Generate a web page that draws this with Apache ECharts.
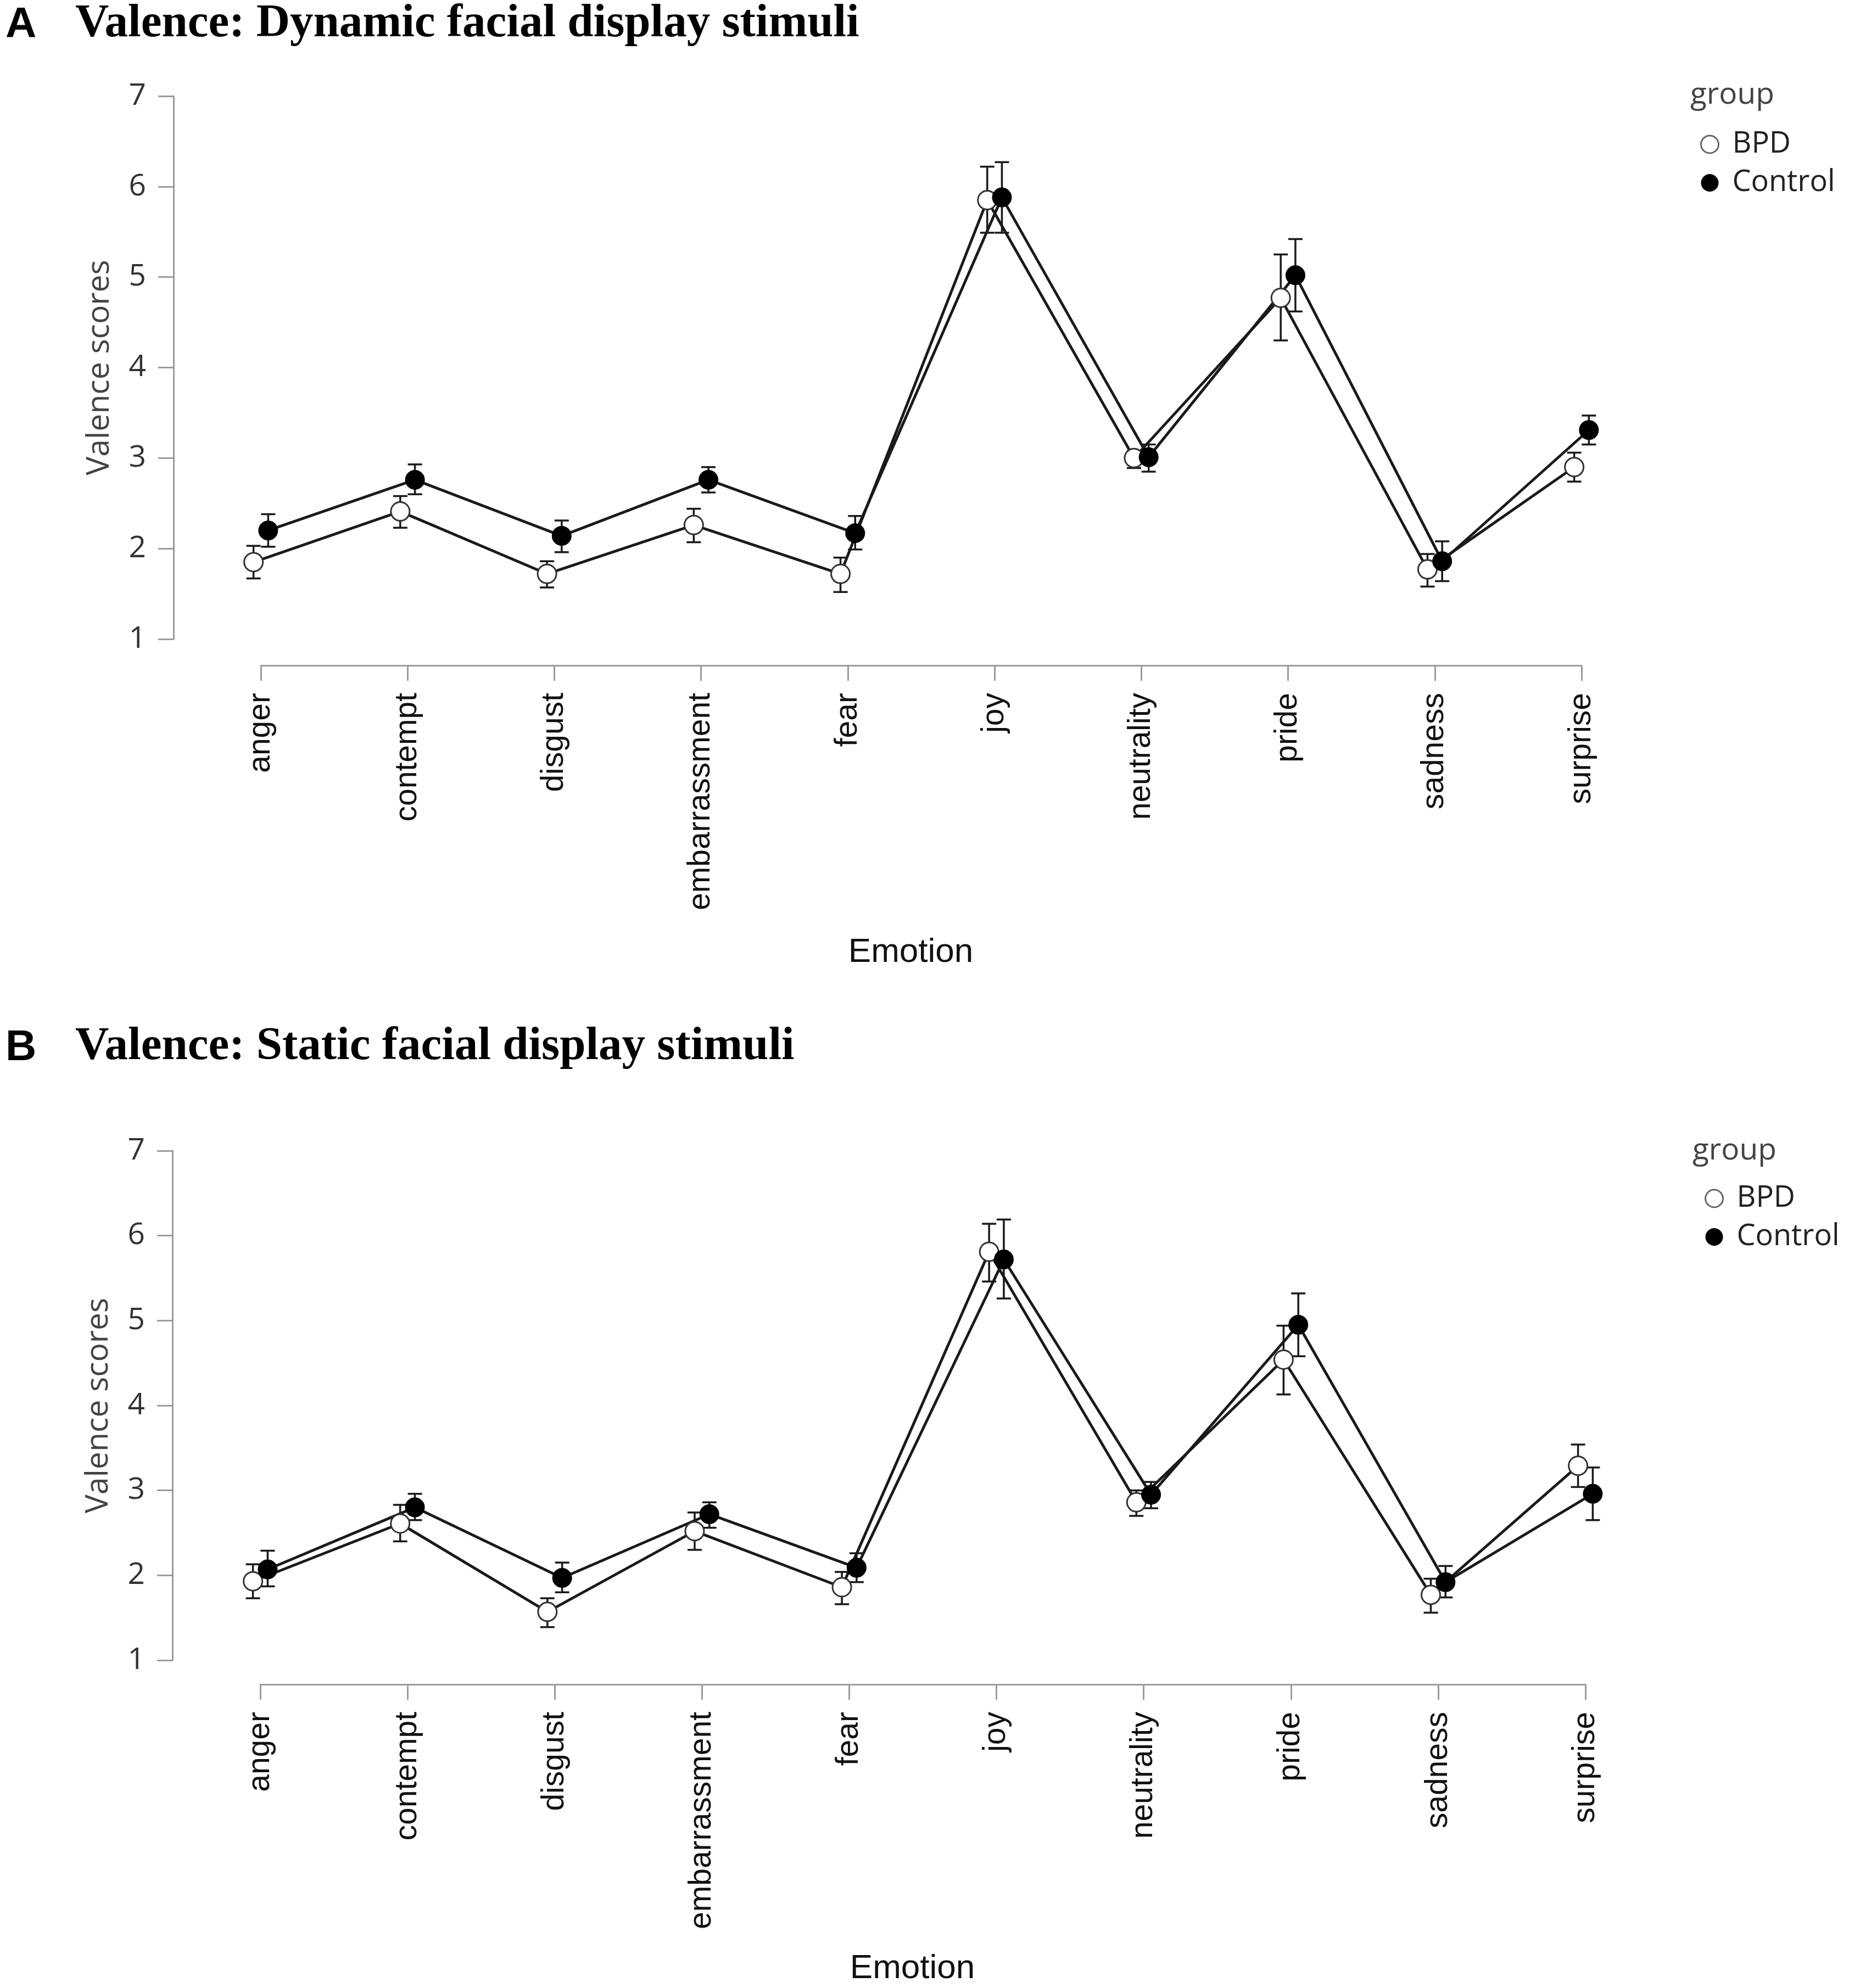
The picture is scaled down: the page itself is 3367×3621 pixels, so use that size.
<!DOCTYPE html>
<html lang="en">
<head>
    <meta charset="UTF-8">
    <title>Valence: facial display stimuli</title>
    <script src="https://cdn.jsdelivr.net/npm/echarts@6/dist/echarts.min.js"></script>
    <style>
        html, body { margin: 0; padding: 0; background: #fff; }
        #chart { width: 3367px; height: 3621px; }
    </style>
</head>
<body>
    <div id="chart"></div>

    <script>
        // categories
        const emotions = ['anger', 'contempt', 'disgust', 'embarrassment', 'fear',
                          'joy', 'neutrality', 'pride', 'sadness', 'surprise'];
        const yTicks = [1, 2, 3, 4, 5, 6, 7];

        // A: dynamic stimuli
        const dynBpdMean = [1.85, 2.41, 1.72, 2.26, 1.72, 5.85, 3.00, 4.77, 1.77, 2.90];
        const dynBpdLow  = [1.67, 2.23, 1.57, 2.07, 1.52, 5.49, 2.89, 4.30, 1.58, 2.74];
        const dynBpdHigh = [2.03, 2.58, 1.86, 2.44, 1.90, 6.22, 3.08, 5.25, 1.94, 3.06];
        const dynCtlMean = [2.20, 2.76, 2.14, 2.76, 2.17, 5.88, 3.01, 5.02, 1.86, 3.31];
        const dynCtlLow  = [2.02, 2.60, 1.96, 2.62, 1.99, 5.49, 2.85, 4.62, 1.64, 3.15];
        const dynCtlHigh = [2.38, 2.93, 2.31, 2.90, 2.36, 6.27, 3.15, 5.42, 2.08, 3.47];

        // B: static stimuli
        const staBpdMean = [1.93, 2.61, 1.57, 2.52, 1.86, 5.81, 2.86, 4.54, 1.77, 3.29];
        const staBpdLow  = [1.73, 2.40, 1.39, 2.30, 1.66, 5.46, 2.70, 4.13, 1.56, 3.04];
        const staBpdHigh = [2.13, 2.83, 1.73, 2.74, 2.04, 6.14, 3.00, 4.94, 1.96, 3.54];
        const staCtlMean = [2.07, 2.80, 1.97, 2.72, 2.09, 5.72, 2.95, 4.95, 1.92, 2.96];
        const staCtlLow  = [1.87, 2.65, 1.80, 2.56, 1.92, 5.26, 2.79, 4.58, 1.74, 2.65];
        const staCtlHigh = [2.29, 2.96, 2.15, 2.86, 2.26, 6.19, 3.10, 5.32, 2.11, 3.27];

        const dodge = 0.05; // groups sit slightly left / right of each category
        const ink = '#1a1a1a';
        const axisGrey = '#9c9c9c';

        var chart = echarts.init(document.getElementById('chart'), null, { renderer: 'canvas' });

        function points(means, shift) {
            return means.map((v, i) => [i + shift, v]);
        }
        function bars(low, high, shift) {
            return low.map((v, i) => [i + shift, v, high[i]]);
        }

        // error bar: vertical line with caps
        function renderErr(params, api) {
            const x = api.value(0);
            const top = api.coord([x, api.value(2)]);
            const bot = api.coord([x, api.value(1)]);
            const w = 13;
            const st = { stroke: ink, lineWidth: 3.5 };
            return {
                type: 'group',
                children: [
                    { type: 'line', shape: { x1: top[0], y1: top[1], x2: bot[0], y2: bot[1] }, style: st },
                    { type: 'line', shape: { x1: top[0] - w, y1: top[1], x2: top[0] + w, y2: top[1] }, style: st },
                    { type: 'line', shape: { x1: bot[0] - w, y1: bot[1], x2: bot[0] + w, y2: bot[1] }, style: st }
                ]
            };
        }

        function xAxisFor(gridIndex, offset, nameGap) {
            return {
                type: 'value', gridIndex: gridIndex,
                min: 0, max: 9, interval: 1,
                offset: offset,
                name: 'Emotion', nameLocation: 'middle', nameGap: nameGap,
                nameTextStyle: { fontFamily: 'Liberation Sans', fontSize: 62, color: '#111', padding: [0, 38, 0, 0] },
                axisLine: { onZero: false, lineStyle: { color: axisGrey, width: 3 } },
                axisTick: { length: 28, lineStyle: { color: axisGrey, width: 3 } },
                splitLine: { show: false },
                axisLabel: {
                    rotate: 90, margin: 50,
                    showMinLabel: true, showMaxLabel: true,
                    fontFamily: 'Liberation Sans', fontSize: 57, color: '#111',
                    formatter: function (v) { return emotions[v] || ''; }
                }
            };
        }

        function yAxisFor(gridIndex, offset) {
            return {
                type: 'value', gridIndex: gridIndex,
                min: yTicks[0], max: yTicks[yTicks.length - 1], interval: 1,
                offset: offset,
                name: 'Valence scores', nameLocation: 'middle', nameGap: 106,
                nameTextStyle: { fontFamily: 'Open Sans', fontSize: 57, color: '#444' },
                axisLine: { onZero: false, lineStyle: { color: axisGrey, width: 3 } },
                axisTick: { length: 28, lineStyle: { color: axisGrey, width: 3 } },
                splitLine: { show: false },
                axisLabel: { margin: 50, fontFamily: 'Open Sans', fontSize: 55, color: '#333' }
            };
        }

        function panelSeries(idx, bMean, bLow, bHigh, cMean, cLow, cHigh) {
            return [
                {
                    type: 'custom', xAxisIndex: idx, yAxisIndex: idx, z: 1, clip: false,
                    renderItem: renderErr, encode: { x: 0, y: [1, 2] },
                    data: bars(bLow, bHigh, -dodge), silent: true
                },
                {
                    type: 'custom', xAxisIndex: idx, yAxisIndex: idx, z: 1, clip: false,
                    renderItem: renderErr, encode: { x: 0, y: [1, 2] },
                    data: bars(cLow, cHigh, dodge), silent: true
                },
                {
                    name: 'BPD', type: 'line', xAxisIndex: idx, yAxisIndex: idx, z: 3, clip: false,
                    data: points(bMean, -dodge),
                    symbol: 'circle', symbolSize: 34, showAllSymbol: true,
                    lineStyle: { color: ink, width: 5 },
                    itemStyle: { color: '#fff', borderColor: '#333', borderWidth: 3 },
                    animation: false
                },
                {
                    name: 'Control', type: 'line', xAxisIndex: idx, yAxisIndex: idx, z: 3, clip: false,
                    data: points(cMean, dodge),
                    symbol: 'circle', symbolSize: 34, showAllSymbol: true,
                    lineStyle: { color: ink, width: 5 },
                    itemStyle: { color: '#000', borderColor: '#000', borderWidth: 2 },
                    animation: false
                }
            ];
        }

        function legendFor(left, top) {
            return {
                orient: 'vertical', left: left, top: top, padding: 0,
                itemWidth: 32, itemHeight: 32, itemGap: 16,
                selectedMode: false,
                textStyle: { fontFamily: 'Open Sans', fontSize: 54, color: '#222', padding: [0, 0, 0, 20] },
                data: [
                    { name: 'BPD', icon: 'circle', itemStyle: { color: '#fff', borderColor: '#666', borderWidth: 3 } },
                    { name: 'Control', icon: 'circle', itemStyle: { color: '#000', borderWidth: 0 } }
                ]
            };
        }

        function titleText(y, letter, text) {
            return [
                { type: 'text', left: 10, top: y - 33,
                  style: { text: letter, font: 'bold 78px "Liberation Sans"', fill: '#000' } },
                { type: 'text', left: 137, top: y - 38,
                  style: { text: text, font: 'bold 85px "Liberation Serif"', fill: '#000' } }
            ];
        }

        var option = {
            backgroundColor: '#fff',
            animation: false,
            grid: [
                { left: 475, right: 487, top: 175, height: 989 },
                { left: 474, right: 480, top: 2096, height: 928 }
            ],
            xAxis: [xAxisFor(0, 48, 492), xAxisFor(1, 44, 487)],
            yAxis: [yAxisFor(0, 159), yAxisFor(1, 160)],
            legend: [legendFor(3096, 236), legendFor(3104, 2156)],
            graphic: [].concat(
                titleText(40, 'A', 'Valence: Dynamic facial display stimuli'),
                titleText(1903, 'B', 'Valence: Static facial display stimuli'),
                [
                    { type: 'text', left: 3078, top: 146,
                      style: { text: 'group', font: '55px "Open Sans"', fill: '#444' } },
                    { type: 'text', left: 3082, top: 2069,
                      style: { text: 'group', font: '55px "Open Sans"', fill: '#444' } }
                ]
            ),
            series: [].concat(
                panelSeries(0, dynBpdMean, dynBpdLow, dynBpdHigh, dynCtlMean, dynCtlLow, dynCtlHigh),
                panelSeries(1, staBpdMean, staBpdLow, staBpdHigh, staCtlMean, staCtlLow, staCtlHigh)
            )
        };

        chart.setOption(option);
    </script>
</body>
</html>
